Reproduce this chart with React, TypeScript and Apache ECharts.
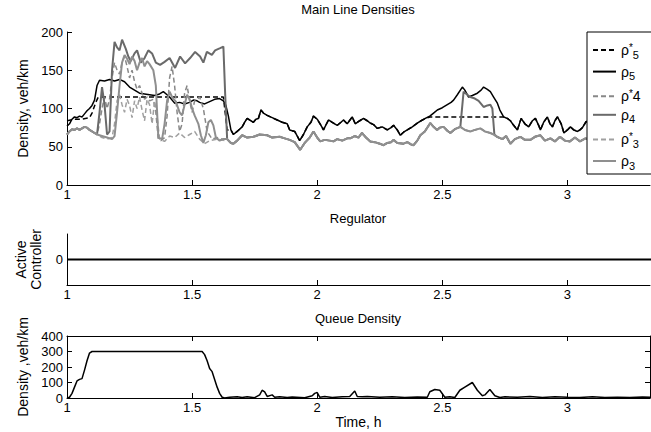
import React, { useEffect, useRef } from "react";
import * as echarts from "echarts";

// ---------- data ----------
const rho5T = [1.00,1.01,1.02,1.03,1.04,1.05,1.06,1.07,1.08,1.09,1.10,1.11,1.12,1.13,1.15,1.17,1.19,1.21,1.23,1.25,1.27,1.29,1.31,1.33,1.35,1.37,1.385,1.40,1.41,1.43,1.45,1.47,1.49,1.505,1.52,1.53,1.55,1.57,1.59,1.61,1.625,1.635,1.645,1.655,1.665,1.68,1.70,1.71,1.72,1.735,1.745,1.755,1.765,1.775,1.785,1.80,1.82,1.84,1.86,1.88,1.89,1.91,1.93,1.945,1.96,1.975,1.985,2.00,2.015,2.025,2.045,2.06,2.08,2.095,2.105,2.12,2.14,2.152,2.17,2.185,2.20,2.212,2.225,2.24,2.26,2.28,2.295,2.305,2.32,2.332,2.345,2.36,2.38,2.40,2.415,2.432,2.45,2.465,2.48,2.50,2.52,2.535,2.545,2.56,2.58,2.59,2.605,2.62,2.64,2.655,2.665,2.68,2.692,2.705,2.72,2.73,2.745,2.76,2.772,2.785,2.80,2.815,2.83,2.845,2.86,2.872,2.885,2.892,2.905,2.92,2.93,2.94,2.95,2.96,2.975,2.986,3.00,3.012,3.025,3.04,3.05,3.06,3.075,3.10,3.13,3.16,3.20,3.24,3.28,3.32,3.34];
const rho5V = [77,80,86,89,88,90,89,93,97,100,104,111,130,137,136,138,136,138,135,128,124,120,119,118,117,119,122,118,115,107,108,106,108,111,110,108,106,109,112,113,110,104,90,72,66,70,76,82,87,84,82,86,87,98,94,91,88,85,82,80,72,70,58,66,76,82,90,86,78,72,85,82,78,82,85,80,89,80,84,87,84,81,79,74,76,72,75,78,72,65,69,72,76,81,84,87,90,94,98,101,105,108,111,118,128,124,115,117,120,124,128,125,122,115,107,98,89,87,84,78,72,87,80,76,84,87,78,72,82,89,80,76,84,89,80,68,72,76,72,70,72,75,83,80,76,82,78,80,76,80,78];

const rho5StarHeadT = [1.00,1.03,1.06,1.09,1.10,1.115,1.125,1.625,1.632,1.64];
const rho5StarHeadV = [84,86,86,88,94,108,115,115,95,72];
const rho5StarFlatT = [2.45,2.745];
const rho5StarFlatV = [89,89];

const grayHeadT = [1.00,1.01,1.02,1.03,1.04,1.05,1.06,1.07,1.08,1.09,1.10,1.11,1.12];
const grayHeadV = [66,70,73,72,74,72,74,76,75,72,70,68,66];
const grayTailT = [1.64,1.655,1.665,1.68,1.70,1.72,1.745,1.77,1.80,1.82,1.85,1.87,1.89,1.91,1.932,1.95,1.97,1.985,2.00,2.012,2.03,2.05,2.065,2.08,2.10,2.12,2.132,2.15,2.165,2.179,2.195,2.212,2.23,2.25,2.265,2.28,2.295,2.305,2.32,2.345,2.36,2.375,2.385,2.40,2.412,2.43,2.452,2.465,2.479,2.49,2.505,2.52,2.532,2.55,2.572,2.59,2.612,2.63,2.652,2.67,2.692,2.705,2.719,2.74,2.755,2.772,2.79,2.812,2.83,2.852,2.87,2.892,2.91,2.932,2.95,2.97,2.99,3.01,3.03,3.05,3.072,3.10,3.14,3.18,3.22,3.26,3.30,3.34];
const grayTailV = [60,55,54,58,65,62,63,66,65,62,63,61,59,56,46,55,62,70,62,57,59,58,57,60,58,61,61,64,62,68,62,57,56,54,52,55,56,59,55,54,56,53,52,58,65,70,81,76,72,75,76,71,68,73,76,72,70,72,74,70,68,66,63,60,64,54,60,63,59,59,63,65,58,61,57,63,58,57,62,57,61,58,62,57,60,58,61,59];

const rho4MidT = [1.13,1.14,1.15,1.16,1.17,1.18,1.19,1.20,1.21,1.22,1.235,1.245,1.255,1.27,1.28,1.295,1.31,1.325,1.34,1.355,1.372,1.39,1.41,1.432,1.452,1.472,1.492,1.512,1.532,1.545,1.559,1.579,1.592,1.612,1.625,1.632];
const rho4MidV = [95,128,105,66,70,150,187,180,176,190,178,168,162,172,176,160,166,176,172,160,157,161,166,153,168,159,166,174,168,160,174,170,176,179,181,120];
const rho4BumpT = [2.585,2.60,2.612,2.63,2.645,2.665,2.68,2.692,2.70,2.708];
const rho4BumpV = [122,118,115,113,110,102,104,105,100,66];

const rho4StarMidT = [1.13,1.14,1.15,1.16,1.17,1.18,1.19,1.20,1.21,1.22,1.23,1.24,1.25,1.26,1.27,1.28,1.29,1.30,1.31,1.32,1.33,1.345,1.355,1.365,1.375,1.39,1.40,1.41,1.42,1.43,1.44,1.45,1.46,1.47,1.48,1.49,1.50,1.51,1.52,1.53,1.545,1.56,1.58,1.60,1.62];
const rho4StarMidV = [80,100,115,100,112,140,160,150,145,160,168,155,140,150,135,125,130,120,112,115,110,112,95,60,58,62,90,140,155,130,95,70,80,120,130,110,95,110,112,115,100,70,60,62,60];

const rho3MidT = [1.14,1.16,1.18,1.19,1.20,1.21,1.22,1.23,1.24,1.25,1.26,1.27,1.28,1.29,1.30,1.31,1.32,1.33,1.345,1.355,1.365,1.38,1.39,1.40,1.41,1.42,1.435,1.45,1.46,1.47,1.48,1.49,1.50,1.51,1.525,1.535,1.545,1.555,1.565,1.575,1.585,1.595,1.61,1.625];
const rho3MidV = [64,62,60,64,95,130,160,170,165,158,168,162,150,160,166,155,162,158,150,130,62,60,80,110,122,115,109,95,91,105,118,112,100,91,80,65,55,65,82,85,78,62,58,60];

const rho3StarMidT = [1.14,1.16,1.18,1.19,1.20,1.21,1.22,1.23,1.24,1.25,1.26,1.27,1.28,1.29,1.30,1.31,1.32,1.33,1.34,1.35,1.36,1.37,1.39,1.41,1.43,1.45,1.47,1.49,1.51,1.53,1.55,1.57,1.60,1.63];
const rho3StarMidV = [62,60,62,80,110,118,105,95,112,104,88,110,100,115,98,84,112,105,80,110,90,60,57,64,62,68,62,66,70,60,54,58,60,58];

const regulatorT = [1.0, 3.34];
const regulatorV = [0, 0];

const queueT = [1.00,1.01,1.02,1.03,1.04,1.05,1.06,1.07,1.08,1.09,1.10,1.54,1.55,1.56,1.57,1.58,1.59,1.60,1.61,1.62,1.63,1.65,1.68,1.70,1.72,1.75,1.77,1.78,1.79,1.80,1.82,1.83,1.85,1.88,1.90,1.95,1.98,1.99,2.00,2.01,2.03,2.06,2.10,2.13,2.15,2.16,2.18,2.20,2.25,2.30,2.35,2.40,2.44,2.45,2.47,2.49,2.51,2.53,2.55,2.57,2.59,2.62,2.64,2.66,2.67,2.69,2.71,2.73,2.75,2.80,2.85,2.90,2.95,3.00,3.05,3.10,3.15,3.20,3.25,3.30,3.34];
const queueV = [0,5,30,70,110,120,125,180,240,290,300,300,280,240,190,170,120,70,30,5,0,5,8,3,8,2,20,50,40,10,20,5,8,3,6,2,15,30,35,5,10,3,8,10,45,10,8,10,5,8,4,6,5,40,55,50,5,8,3,50,70,100,50,15,20,55,15,3,8,5,10,3,8,5,3,8,3,5,3,6,4];

const xTicks = [1, 1.5, 2, 2.5, 3];
const mainTicks = [0, 50, 100, 150, 200];
const queueTicks = [0, 100, 200, 300, 400];

// ---------- helpers ----------
type P = [number, number];
const zip = (t: number[], v: number[]): P[] => {
  const n = Math.min(t.length, v.length);
  const out: P[] = [];
  for (let i = 0; i < n; i++) out.push([t[i], v[i]]);
  return out;
};
const range = (pts: P[], lo: number, hi: number) => pts.filter((p) => p[0] >= lo && p[0] < hi);

const rho5 = zip(rho5T, rho5V);
const grayHead = zip(grayHeadT, grayHeadV);
const grayTail = zip(grayTailT, grayTailV);

const rho5Star = [
  ...zip(rho5StarHeadT, rho5StarHeadV),
  ...range(rho5, 1.65, 2.45),
  ...zip(rho5StarFlatT, rho5StarFlatV),
  ...range(rho5, 2.755, 9),
];
const rho4 = [
  ...grayHead,
  ...zip(rho4MidT, rho4MidV),
  ...range(grayTail, 0, 2.585),
  ...zip(rho4BumpT, rho4BumpV),
  ...range(grayTail, 2.709, 9),
];
const rho4Star = [...grayHead, ...zip(rho4StarMidT, rho4StarMidV), ...grayTail];
const rho3 = [...grayHead, ...zip(rho3MidT, rho3MidV), ...grayTail];
const rho3Star = [...grayHead, ...zip(rho3StarMidT, rho3StarMidV), ...grayTail];

const FONT = "Liberation Sans";
const XMIN = 1;
const XMAX = 3.33;

const xFmt = (v: number) => (xTicks.some((t) => Math.abs(t - v) < 1e-6) ? String(v) : "");

const baseX = (gridIndex: number, showLabel: boolean, extra: any = {}) => ({
  type: "value",
  gridIndex,
  min: XMIN,
  max: XMAX,
  interval: 0.5,
  axisLine: { show: true, onZero: false, lineStyle: { color: "#000", width: 1 } },
  axisTick: { show: true, inside: true, length: 5, customValues: xTicks, lineStyle: { color: "#000" } },
  axisLabel: { show: showLabel, color: "#000", fontSize: 13, fontFamily: FONT, margin: 3, formatter: xFmt, customValues: xTicks },
  splitLine: { show: false },
  ...extra,
});

const titleStyle = { fontSize: 13, fontWeight: "normal", color: "#000", fontFamily: FONT };

const richLegend = {
  r: { fontSize: 14, lineHeight: 20, fontFamily: FONT, color: "#000" },
  sup: { fontSize: 10, lineHeight: 20, verticalAlign: "top", fontFamily: FONT, color: "#000", padding: [2, 0, 0, 0] },
  sub: { fontSize: 11, lineHeight: 20, verticalAlign: "bottom", fontFamily: FONT, color: "#000" },
};
const legendLabels: Record<string, string> = {
  "ρ5*": "{r|ρ}{sup|*}{sub|5}",
  "ρ5": "{r|ρ}{sub|5}",
  "ρ*4": "{r|ρ}{sup|*}{r|4}",
  "ρ4": "{r|ρ}{sub|4}",
  "ρ3*": "{r|ρ}{sup|*}{sub|3}",
  "ρ3": "{r|ρ}{sub|3}",
};

const lineSeries = (name: string, data: P[], color: string, width: number, dashed: boolean) => ({
  name,
  type: "line",
  xAxisIndex: 0,
  yAxisIndex: 0,
  data,
  showSymbol: false,
  symbol: "none",
  silent: true,
  clip: true,
  lineStyle: { color, width, type: dashed ? [5, 3] : "solid" },
  itemStyle: { color },
  emphasis: { disabled: true },
});

const option: any = {
  animation: false,
  backgroundColor: "#fff",
  textStyle: { fontFamily: FONT },
  title: [
    { text: "Main Line Densities", left: 358, top: 3, padding: 0, textAlign: "center", textStyle: titleStyle },
    { text: "Regulator", left: 358, top: 212, padding: 0, textAlign: "center", textStyle: titleStyle },
    { text: "Queue Density", left: 358, top: 312, padding: 0, textAlign: "center", textStyle: titleStyle },
  ],
  grid: [
    { left: 67, right: 1, top: 32, height: 153 },
    { left: 67, right: 1, top: 234, height: 51 },
    { left: 67, right: 1, top: 336, height: 62 },
  ],
  xAxis: [
    baseX(0, true),
    baseX(1, true),
    baseX(2, true, { name: "Time, h", nameLocation: "middle", nameGap: 16, nameTextStyle: { fontSize: 14, color: "#000", fontFamily: FONT } }),
    baseX(2, false, { position: "top" }),
  ],
  yAxis: [
    {
      type: "value", gridIndex: 0, min: 0, max: 200, interval: 50,
      axisLine: { show: true, onZero: false, lineStyle: { color: "#000" } },
      axisTick: { show: true, inside: true, length: 5, lineStyle: { color: "#000" } },
      axisLabel: { color: "#000", fontSize: 13, fontFamily: FONT, margin: 4, customValues: mainTicks },
      splitLine: { show: false },
      name: "Density, veh/km", nameLocation: "middle", nameGap: 36,
      nameTextStyle: { fontSize: 14, color: "#000", fontFamily: FONT },
    },
    {
      type: "value", gridIndex: 1, min: -1, max: 1, interval: 1,
      axisLine: { show: true, onZero: false, lineStyle: { color: "#000" } },
      axisTick: { show: true, inside: true, length: 5, customValues: [0], lineStyle: { color: "#000" } },
      axisLabel: { color: "#000", fontSize: 13, fontFamily: FONT, margin: 4, customValues: [0], formatter: (v: number) => (v === 0 ? "0" : "") },
      splitLine: { show: false },
      name: "Active\nController", nameLocation: "middle", nameGap: 24,
      nameTextStyle: { fontSize: 14, lineHeight: 15, color: "#000", fontFamily: FONT },
    },
    {
      type: "value", gridIndex: 2, min: 0, max: 400, interval: 100,
      axisLine: { show: true, onZero: false, lineStyle: { color: "#000" } },
      axisTick: { show: true, inside: true, length: 5, lineStyle: { color: "#000" } },
      axisLabel: { color: "#000", fontSize: 13, fontFamily: FONT, margin: 4, customValues: queueTicks },
      splitLine: { show: false },
      name: "Density ,veh/km", nameLocation: "middle", nameGap: 36,
      nameTextStyle: { fontSize: 14, color: "#000", fontFamily: FONT },
    },
    {
      type: "value", gridIndex: 2, min: 0, max: 400, interval: 100, position: "right",
      axisLine: { show: true, onZero: false, lineStyle: { color: "#000" } },
      axisTick: { show: true, inside: true, length: 5, lineStyle: { color: "#000" } },
      axisLabel: { show: false },
      splitLine: { show: false },
    },
  ],
  legend: {
    show: true,
    orient: "vertical",
    left: 587,
    top: 32,
    itemWidth: 23,
    itemHeight: 14,
    itemGap: 4.6,
    padding: [8, 12, 3, 5],
    backgroundColor: "#fff",
    borderColor: "#000",
    borderWidth: 1,
    borderRadius: 0,
    selectedMode: false,
    z: 20,
    itemStyle: { color: "rgba(0,0,0,0)", borderWidth: 0, opacity: 0 },
    data: ["ρ5*", "ρ5", "ρ*4", "ρ4", "ρ3*", "ρ3"],
    formatter: (n: string) => legendLabels[n] || n,
    textStyle: { fontSize: 14, color: "#000", fontFamily: FONT, rich: richLegend },
  },
  series: [
    lineSeries("ρ5*", rho5Star, "#000000", 1.5, true),
    lineSeries("ρ5", rho5, "#000000", 1.5, false),
    lineSeries("ρ*4", rho4Star, "#888888", 1.5, true),
    lineSeries("ρ4", rho4, "#6a6a6a", 2, false),
    lineSeries("ρ3*", rho3Star, "#a0a0a0", 1.5, true),
    lineSeries("ρ3", rho3, "#8f8f8f", 2, false),
    {
      name: "Active Controller", type: "line", xAxisIndex: 1, yAxisIndex: 1,
      data: zip(regulatorT, regulatorV), showSymbol: false, symbol: "none", silent: true,
      lineStyle: { color: "#000", width: 2 }, emphasis: { disabled: true },
    },
    {
      name: "Queue", type: "line", xAxisIndex: 2, yAxisIndex: 2,
      data: zip(queueT, queueV), showSymbol: false, symbol: "none", silent: true,
      lineStyle: { color: "#000", width: 1.5 }, emphasis: { disabled: true },
    },
  ],
};

export default function App() {
  const ref = useRef<HTMLDivElement>(null);
  useEffect(() => {
    if (!ref.current) return;
    const chart = echarts.init(ref.current, null, { renderer: "svg" });
    chart.setOption(option);
    return () => chart.dispose();
  }, []);
  return (
    <div
      ref={ref}
      style={{ position: "absolute", left: 0, top: 0, width: 651, height: 432, background: "#fff" }}
    />
  );
}
